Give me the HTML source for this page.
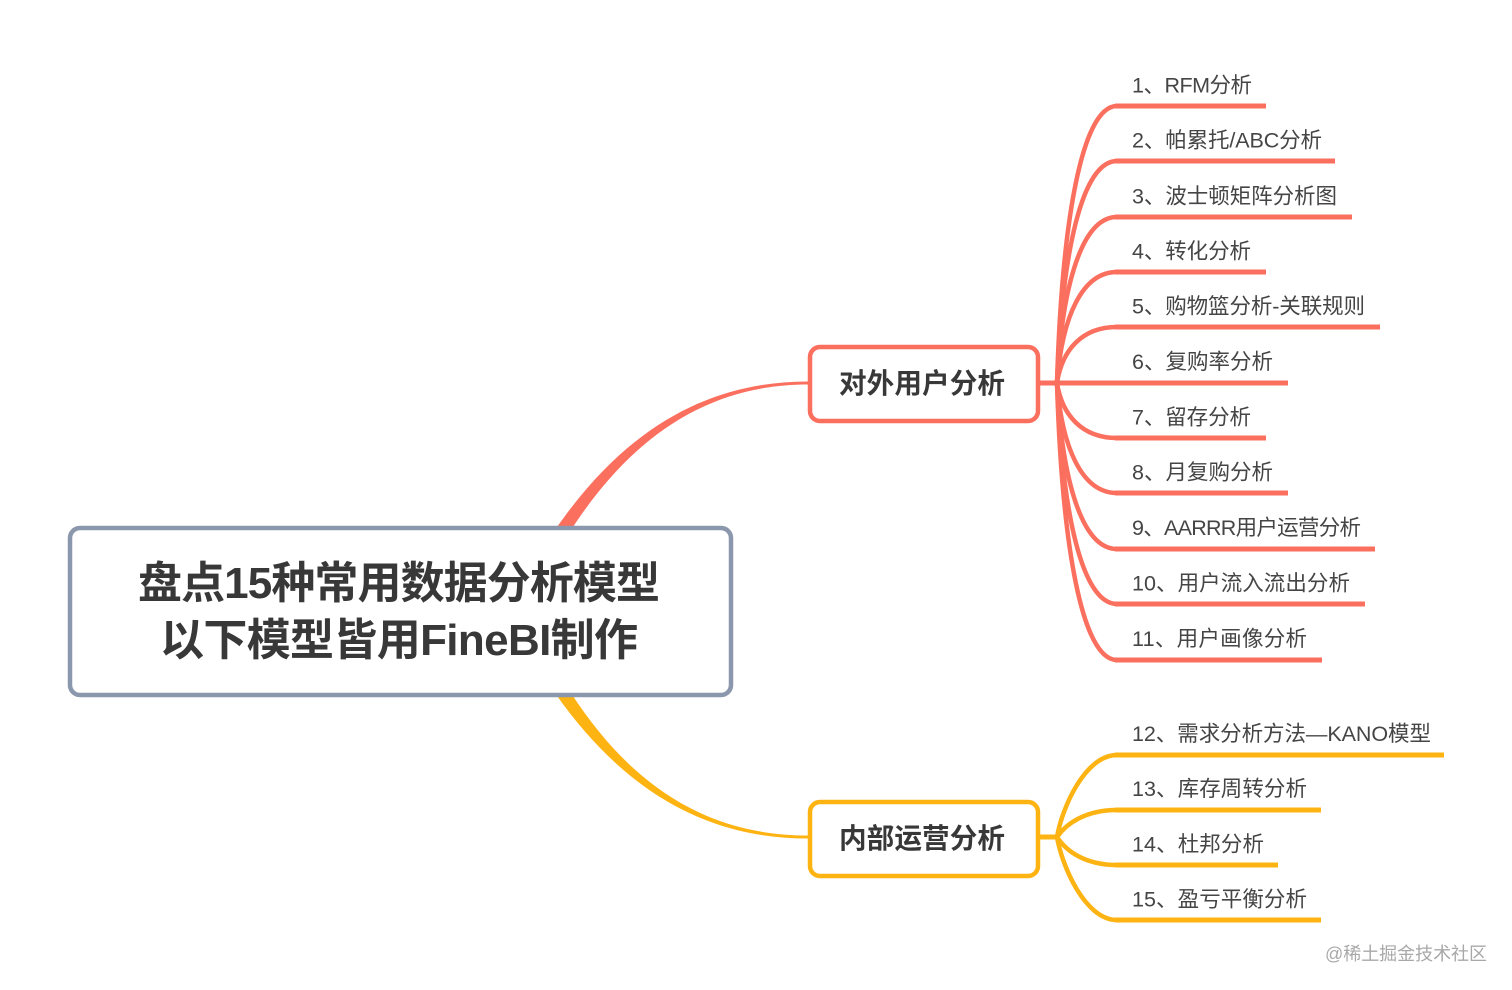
<!DOCTYPE html>
<html lang="zh">
<head>
<meta charset="utf-8">
<style>
html,body{margin:0;padding:0;background:#fff;width:1512px;height:990px;overflow:hidden}
svg{display:block}
text{font-family:"Liberation Sans","Noto Sans CJK SC",sans-serif}
.l{font-size:21.5px;fill:#454545}
.t{font-size:44px;font-weight:700;fill:#383838}
.s{font-size:27.6px;font-weight:700;fill:#383838}
.r path{fill:none;stroke:#fb6f5f;stroke-width:4.5}
.r line{fill:none;stroke:#fb6f5f;stroke-width:5}
.y path{fill:none;stroke:#fdb312;stroke-width:4.5}
.y line{fill:none;stroke:#fdb312;stroke-width:5}
</style>
</head>
<body>
<svg width="1512" height="990" viewBox="0 0 1512 990" xmlns="http://www.w3.org/2000/svg">
<path d="M555 530C630 421 716 381.5 808 381.5L808 384.5C718 384.5 638 426.5 571 530Z" fill="#fb6f5f"/>
<path d="M555 693C630 800 716 838.5 808 838.5L808 835.5C718 835.5 638 796.5 571 693Z" fill="#fdb312"/>
<rect x="70" y="528" width="661" height="167" rx="10" fill="#fff" stroke="#8a97ac" stroke-width="4.5"/>
<text class="t" x="138" y="598" textLength="522">盘点15种常用数据分析模型</text>
<text class="t" x="160" y="655" textLength="478">以下模型皆用FineBI制作</text>

<g class="r">
<line x1="1038" y1="383" x2="1117" y2="383"/>
<path d="M1057 383C1062 220 1082 106 1117 106"/>
<path d="M1057 383C1062 252 1082 161 1117 161"/>
<path d="M1057 383C1062 285 1082 217 1117 217"/>
<path d="M1057 383C1062 317 1082 272 1117 272"/>
<path d="M1057 383C1062 350 1082 327 1117 327"/>
<path d="M1057 383C1062 415 1082 438 1117 438"/>
<path d="M1057 383C1062 448 1082 493 1117 493"/>
<path d="M1057 383C1062 481 1082 549 1117 549"/>
<path d="M1057 383C1062 513 1082 604 1117 604"/>
<path d="M1057 383C1062 546 1082 660 1117 660"/>
<line x1="1115" y1="106" x2="1266" y2="106"/>
<line x1="1115" y1="161" x2="1335" y2="161"/>
<line x1="1115" y1="217" x2="1352" y2="217"/>
<line x1="1115" y1="272" x2="1266" y2="272"/>
<line x1="1115" y1="327" x2="1380" y2="327"/>
<line x1="1115" y1="383" x2="1288" y2="383"/>
<line x1="1115" y1="438" x2="1266" y2="438"/>
<line x1="1115" y1="493" x2="1288" y2="493"/>
<line x1="1115" y1="549" x2="1375" y2="549"/>
<line x1="1115" y1="604" x2="1365" y2="604"/>
<line x1="1115" y1="660" x2="1322" y2="660"/>
</g>
<g class="y">
<line x1="1038" y1="837" x2="1057" y2="837"/>
<path d="M1057 837C1062 808 1085 755 1117 755"/>
<path d="M1057 837C1066 824 1085 810 1117 810"/>
<path d="M1057 837C1066 851 1085 865 1117 865"/>
<path d="M1057 837C1062 866 1085 920 1117 920"/>
<line x1="1115" y1="755" x2="1444" y2="755"/>
<line x1="1115" y1="810" x2="1321" y2="810"/>
<line x1="1115" y1="865" x2="1278" y2="865"/>
<line x1="1115" y1="920" x2="1321" y2="920"/>
</g>

<rect x="810" y="347" width="228" height="74" rx="10" fill="#fff" stroke="#fb6f5f" stroke-width="4.5"/>
<text class="s" x="839" y="393" textLength="166">对外用户分析</text>
<rect x="810" y="802" width="228" height="74" rx="10" fill="#fff" stroke="#fdb312" stroke-width="4.5"/>
<text class="s" x="839" y="848" textLength="166">内部运营分析</text>

<text class="l" x="1132" y="92.5" textLength="120">1、RFM分析</text>
<text class="l" x="1132" y="147.5" textLength="190">2、帕累托/ABC分析</text>
<text class="l" x="1132" y="203.5" textLength="205">3、波士顿矩阵分析图</text>
<text class="l" x="1132" y="258.5" textLength="119">4、转化分析</text>
<text class="l" x="1132" y="313.5" textLength="233">5、购物篮分析-关联规则</text>
<text class="l" x="1132" y="369" textLength="141">6、复购率分析</text>
<text class="l" x="1132" y="424.5" textLength="119">7、留存分析</text>
<text class="l" x="1132" y="479.5" textLength="141">8、月复购分析</text>
<text class="l" x="1132" y="535" textLength="229">9、AARRR用户运营分析</text>
<text class="l" x="1132" y="590.5" textLength="218">10、用户流入流出分析</text>
<text class="l" x="1132" y="646" textLength="175">11、用户画像分析</text>
<text class="l" x="1132" y="741" textLength="299">12、需求分析方法—KANO模型</text>
<text class="l" x="1132" y="796" textLength="175">13、库存周转分析</text>
<text class="l" x="1132" y="851.5" textLength="132">14、杜邦分析</text>
<text class="l" x="1132" y="906.5" textLength="175">15、盈亏平衡分析</text>
<text x="1325" y="960" font-size="18" fill="#a8a8a8" textLength="162">@稀土掘金技术社区</text>
</svg>
</body>
</html>
